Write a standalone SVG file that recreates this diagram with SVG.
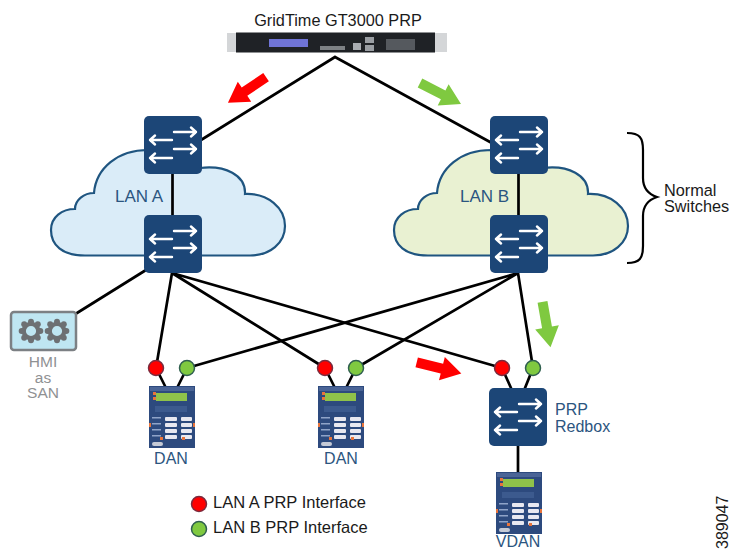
<svg xmlns="http://www.w3.org/2000/svg" xmlns:xlink="http://www.w3.org/1999/xlink" width="732" height="550" viewBox="0 0 732 550">
<style>
text{font-family:"Liberation Sans",Arial,sans-serif}
.blk{font-size:16.300px;fill:#1a1a1a}
.blu{font-size:16px;fill:#2b5580}
.gry{font-size:15.500px;fill:#8f9193;text-anchor:middle}
.ln{stroke:#000;stroke-width:2.700;fill:none;stroke-linecap:round}
.red{fill:#f00;stroke:#7a2b3e;stroke-width:1.500}
.grn{fill:#7fc940;stroke:#2f5f4f;stroke-width:1.500}
.ar{fill:none;stroke:#fff;stroke-width:2.400;stroke-linecap:round;stroke-linejoin:round}
</style>
<defs>
<g id="sw">
<rect width="58" height="58" rx="5" fill="#1c4677"/>
<path class="ar" d="M30 16H52M47 11.500L52 16L47 20.500M30 33H52M47 28.500L52 33L47 37.500M28 24H6M11 19.500L6 24L11 28.500M28 42H6M11 37.500L6 42L11 46.500"/>
</g>
<g id="relay">
<rect width="46" height="62" fill="#2d4a7e"/>
<rect x="1" y="1" width="44" height="4" fill="#4a6496"/>
<rect x="7" y="7" width="31" height="8" fill="#8fc24a"/>
<rect x="4" y="6" width="3" height="3" fill="#e8743b"/><rect x="4" y="11" width="3" height="3" fill="#e8743b"/>
<path d="M6 20H38V26H6Z" fill="#3c5a8e"/>
<g fill="#e8e8f0"><rect x="16" y="31" width="12" height="4" rx="1"/><rect x="32" y="31" width="11" height="4" rx="1"/><rect x="16" y="37" width="12" height="4" rx="1"/><rect x="32" y="37" width="11" height="4" rx="1"/><rect x="16" y="43" width="12" height="4" rx="1"/><rect x="32" y="43" width="11" height="4" rx="1"/><rect x="16" y="49" width="12" height="4" rx="1"/><rect x="32" y="49" width="11" height="4" rx="1"/></g>
<g fill="#8fa3c8"><rect x="3" y="31" width="9" height="1.500"/><rect x="3" y="37" width="9" height="1.500"/><rect x="3" y="43" width="9" height="1.500"/><rect x="3" y="49" width="9" height="1.500"/></g>
<g fill="#e8743b"><rect x="0" y="37" width="2" height="4"/><rect x="44" y="37" width="2" height="4"/><rect x="11" y="51" width="3" height="3"/><rect x="33" y="51" width="3" height="3"/></g>
<rect x="3" y="56" width="11" height="4" rx="2" fill="#c5cad6"/>
</g>
<g id="gear" fill="#6d7073">
<circle r="8.500" fill="none" stroke="#6d7073" stroke-width="5"/>
<circle cy="-11" r="3.500"/><circle cy="11" r="3.500"/><circle cx="-11" r="3.500"/><circle cx="11" r="3.500"/><circle cx="-8" cy="-8" r="3.500"/><circle cx="8" cy="-8" r="3.500"/><circle cx="-8" cy="8" r="3.500"/><circle cx="8" cy="8" r="3.500"/>
</g>
<path id="cloud" d="M85 255.500C62 255.500 51 245 51 230C51 217 62 209 75 209C75 200 84 193 94 193C96 168 118 150 148 150L200 168C225 165 246 175 245 194C268 193 285 208 285 226C285 243 270 255.500 250 255.500Z" stroke="#1f5580" stroke-width="2.200"/>
<path id="block" d="M-23 -5L3 -5L3 -12L23 0L3 12L3 5L-23 5Z"/>
</defs>

<g id="cloud-a"><use href="#cloud" fill="#daecf8"/><text class="blu" x="115" y="202" style="font-size:17px">LAN A</text></g>
<g id="cloud-b"><use href="#cloud" x="343" fill="#e9f1d2"/><text class="blu" x="460" y="202" style="font-size:17px">LAN B</text></g>

<g id="connectors">
<path class="ln" d="M335 57L201 140M335 57L490 142"/>
<path class="ln" d="M172.500 173V215M518.500 173V215"/>
<path class="ln" d="M146 270L77 313M172 273L156 368M172 273L325 368M172 273L502 368"/>
<path class="ln" d="M518 273L187 368M518 273L356 368M518 273L533 368"/>
<path class="ln" d="M156 368L165 386M187 368L178 386M325 368L334 386M356 368L347 386M502 368L511 388M533 368L525 388"/>
<path class="ln" d="M518 446V472"/>
</g>

<g id="gridtime">
<text class="blk" x="338" y="26" text-anchor="middle">GridTime GT3000 PRP</text>
<rect x="227" y="33" width="220" height="19" fill="#d4d6d8"/>
<rect x="236" y="32.500" width="199" height="20" fill="#1f2226"/>
<rect x="269" y="39" width="39" height="8" fill="#6f74d6"/>
<rect x="353" y="43" width="8" height="7" fill="#a9adb2"/>
<rect x="365" y="37" width="9" height="6" fill="#9a9ea3"/><rect x="365" y="45" width="9" height="6" fill="#9a9ea3"/>
<rect x="386" y="39" width="29" height="11" fill="#55595e"/>
<rect x="320" y="46" width="25" height="4" fill="#7d8185"/>
</g>

<g id="switch-a1"><use href="#sw" x="144" y="116"/></g>
<g id="switch-a2"><use href="#sw" x="144" y="215"/></g>
<g id="switch-b1"><use href="#sw" x="490" y="116"/></g>
<g id="switch-b2"><use href="#sw" x="490" y="215"/></g>

<g id="hmi">
<rect x="11" y="312" width="65" height="38" rx="3" fill="#bfe6f2" stroke="#7c8084" stroke-width="2.500"/>
<g transform="translate(31 331) scale(.85)"><use href="#gear"/></g>
<g transform="translate(57 331) scale(.85)"><use href="#gear"/></g>
<text class="gry" x="43" y="367">HMI</text><text class="gry" x="43" y="383">as</text><text class="gry" x="43" y="398">SAN</text>
</g>

<g id="dan-1"><circle class="red" cx="156" cy="368" r="7.500"/><circle class="grn" cx="187" cy="368" r="7.500"/><use href="#relay" x="149" y="386"/><text class="blu" x="171" y="464" text-anchor="middle">DAN</text></g>
<g id="dan-2"><circle class="red" cx="325" cy="368" r="7.500"/><circle class="grn" cx="356" cy="368" r="7.500"/><use href="#relay" x="318" y="386"/><text class="blu" x="341" y="464" text-anchor="middle">DAN</text></g>
<g id="redbox"><circle class="red" cx="502" cy="368" r="7.500"/><circle class="grn" cx="533" cy="368" r="7.500"/><use href="#sw" x="489" y="388"/><text class="blu" x="555" y="415">PRP</text><text class="blu" x="555" y="432">Redbox</text></g>
<g id="vdan"><use href="#relay" x="496" y="472"/><text class="blu" x="518" y="547" text-anchor="middle">VDAN</text></g>

<g id="flow-arrows">
<use href="#block" fill="#f00" transform="translate(247 90) rotate(146)"/>
<use href="#block" fill="#7fc940" transform="translate(440.500 93.500) rotate(27)"/>
<use href="#block" fill="#f00" transform="translate(439 368) rotate(14)"/>
<use href="#block" fill="#7fc940" transform="translate(546.500 324.500) rotate(80)"/>
</g>

<g id="brace">
<path d="M627 133C640 133 643 138 643 150V178C643 188 648 194 657 197C648 200 643 206 643 216V246C643 258 640 263 627 263" fill="none" stroke="#000" stroke-width="2.200"/>
<text class="blk" x="664" y="196">Normal</text><text class="blk" x="664" y="212">Switches</text>
</g>

<g id="legend">
<circle class="red" cx="199" cy="504" r="7.500"/><text class="blk" x="213" y="508" style="font-size:16.500px">LAN A PRP Interface</text>
<circle class="grn" cx="199" cy="529" r="7.500"/><text class="blk" x="213" y="533" style="font-size:16.500px">LAN B PRP Interface</text>
</g>
<text class="blk" transform="translate(728 549) rotate(-90)" style="font-size:16px">389047</text>
</svg>
